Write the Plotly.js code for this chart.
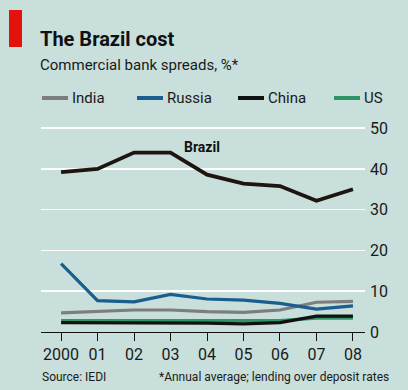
<!DOCTYPE html>
<html>
<head>
<meta charset="utf-8">
<script src="https://cdn.plot.ly/plotly-3.0.1.min.js"></script>
<style>
html,body{margin:0;padding:0;background:#c8dfdc;}
#chart{width:408px;height:390px;}
</style>
</head>
<body>
<div id="chart"></div>
<script>
// ---- data ----
var years = [2000, 2001, 2002, 2003, 2004, 2005, 2006, 2007, 2008];
var tickLabels = ["2000", "01", "02", "03", "04", "05", "06", "07", "08"];
var brazil = [39.2, 40.0, 44.0, 44.0, 38.6, 36.4, 35.8, 32.2, 35.0];
var india  = [4.7, 5.1, 5.4, 5.4, 5.0, 4.8, 5.4, 7.3, 7.5];
var russia = [16.8, 7.7, 7.4, 9.2, 8.1, 7.8, 7.0, 5.6, 6.4];
var china  = [2.3, 2.3, 2.3, 2.3, 2.2, 2.0, 2.3, 3.9, 3.9];
var us     = [2.8, 2.8, 2.8, 2.8, 2.8, 2.8, 2.8, 3.4, 3.4];
var yTicks = [0, 10, 20, 30, 40, 50];
var legendNames = ["India", "Russia", "China", "US"];

var FONT = "Roboto, Open Sans, sans-serif";
var BG = "#c8dfdc";
var COLORS = {India: "#7d7d7d", Russia: "#1a5d8e", China: "#111111", US: "#2f9468", Brazil: "#1e1410"};

// plot area in pixels
var L = 41, R = 365, T = 120, B = 332, W = 408, H = 390;
function px(x){ return (x - L) / (R - L); }
function py(y){ return (B - y) / (B - T); }

var series = {India: india, Russia: russia, China: china, US: us};
var drawOrder = ["India", "US", "China", "Russia"];
var traces = drawOrder.map(function(n){
  return {x: years, y: series[n], name: n, mode: "lines", showlegend: false,
          line: {color: COLORS[n], width: 3.2}};
});
traces.push({x: years, y: brazil, name: "Brazil", mode: "lines", showlegend: false,
             line: {color: COLORS.Brazil, width: 3.8}});

// manual legend positions (pixels)
var legX = [42, 137, 238, 334];
var legY = 98;
var shapes = [
  {type: "rect", xref: "paper", yref: "paper", x0: px(9), x1: px(22), y0: py(47), y1: py(10),
   fillcolor: "#e3120b", line: {width: 0}}
];
var annotations = [
  {xref: "paper", yref: "paper", x: px(38), y: py(39), xanchor: "left", yanchor: "middle",
   text: "<b>The Brazil cost</b>", showarrow: false,
   font: {family: FONT, size: 20, color: "#111"}},
  {xref: "paper", yref: "paper", x: px(38), y: py(65), xanchor: "left", yanchor: "middle",
   text: "Commercial bank spreads, %*", showarrow: false,
   font: {family: FONT, size: 15, color: "#1a1a1a"}},
  {xref: "x", yref: "y", x: 2003.85, y: 45.3, xanchor: "center", yanchor: "middle",
   text: "<b>Brazil</b>", showarrow: false,
   font: {family: FONT, size: 14, color: "#111"}},
  {xref: "paper", yref: "paper", x: px(40), y: py(377), xanchor: "left", yanchor: "middle",
   text: "Source: IEDI", showarrow: false,
   font: {family: FONT, size: 12, color: "#1a1a1a"}},
  {xref: "paper", yref: "paper", x: px(391), y: py(377), xanchor: "right", yanchor: "middle",
   text: "*Annual average; lending over deposit rates", showarrow: false,
   font: {family: FONT, size: 12, color: "#1a1a1a"}}
];
legendNames.forEach(function(n, i){
  shapes.push({type: "line", xref: "paper", yref: "paper",
    x0: px(legX[i]), x1: px(legX[i] + 26), y0: py(legY), y1: py(legY),
    line: {color: COLORS[n], width: 4}});
  annotations.push({xref: "paper", yref: "paper", x: px(legX[i] + 28), y: py(legY),
    xanchor: "left", yanchor: "middle", text: n, showarrow: false,
    font: {family: FONT, size: 15, color: "#1a1a1a"}});
});

var layout = {
  width: W, height: H,
  margin: {l: L, r: W - R, t: T, b: H - B, pad: 0},
  paper_bgcolor: BG, plot_bgcolor: BG,
  font: {family: FONT, size: 14, color: "#1a1a1a"},
  showlegend: false,
  xaxis: {
    range: [1999.45, 2008.33], tickmode: "array", tickvals: years, ticktext: tickLabels,
    showgrid: false, zeroline: false, showline: true, linecolor: "#111", linewidth: 1,
    ticks: "outside", ticklen: 8, tickcolor: "#111", tickwidth: 1,
    tickfont: {family: FONT, size: 16, color: "#1a1a1a"}, fixedrange: true
  },
  yaxis: {
    range: [0, 52], side: "right", tickmode: "array", tickvals: yTicks,
    showgrid: true, gridcolor: "#ffffff", gridwidth: 1.5, zeroline: false,
    showline: false, ticks: "", ticklabelstandoff: 4,
    tickfont: {family: FONT, size: 16, color: "#1a1a1a"}, fixedrange: true
  },
  shapes: shapes,
  annotations: annotations
};

Plotly.newPlot("chart", traces, layout, {displayModeBar: false, staticPlot: true});
</script>
</body>
</html>
